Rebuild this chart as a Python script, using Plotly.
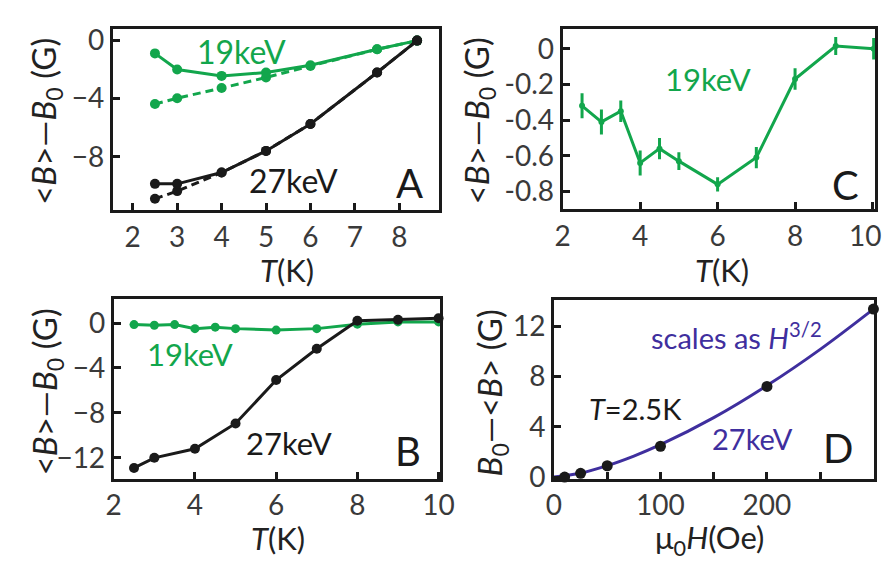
import plotly.graph_objects as go
from plotly.subplots import make_subplots

W, H = 895, 562
GREEN = "#12a64c"
BLACK = "#1a1a1a"
PURPLE = "#3f2f9e"
TICKC = "#3a3a3a"
FONT = "Lato"

# Panel A data
a_T = [2.5, 3, 4, 5, 6, 7.5, 8.4]
a_g19_solid = [-0.88, -1.99, -2.43, -2.2, -1.7, -0.6, 0.0]
a_g19_dash = [-4.37, -3.97, -3.27, -2.54, -1.75, -0.6, 0.0]
a_k27_solid = [-9.87, -9.87, -9.09, -7.6, -5.74, -2.2, 0.0]
a_k27_dash = [-10.9, -10.37, -9.09, -7.6, -5.74, -2.2, 0.0]

# Panel B data
b_T = [2.5, 3, 3.5, 4, 4.5, 5, 6, 7, 8, 9, 10]
b_g19 = [-0.14, -0.2, -0.14, -0.5, -0.37, -0.5, -0.63, -0.5, -0.1, 0.1, 0.1]
b_k_T = [2.5, 3, 4, 5, 6, 7, 8, 9, 10]
b_k27 = [-12.9, -12.0, -11.2, -8.94, -5.08, -2.29, 0.2, 0.29, 0.43]

# Panel C data
c_T = [2.5, 3, 3.5, 4, 4.5, 5, 6, 7, 8, 9.05, 10.03]
c_g19 = [-0.32, -0.41, -0.35, -0.64, -0.56, -0.63, -0.76, -0.61, -0.17, 0.015, 0.0]
c_err = [0.07, 0.07, 0.06, 0.07, 0.06, 0.05, 0.04, 0.06, 0.06, 0.05, 0.06]

# Panel D data
d_H = [10, 25, 50, 100, 200, 300]
d_B = [0.0, 0.3, 0.9, 2.45, 7.2, 13.35]
d_fitH = [0, 25, 50, 75, 100, 150, 200, 250, 300]
d_fitB = [0, 0.32, 0.91, 1.67, 2.57, 4.72, 7.27, 10.15, 13.35]

fig = make_subplots(rows=2, cols=2)

def line_tr(x, y, color, dash="solid", row=1, col=1, size=10, err=None):
    tr = go.Scatter(x=x, y=y, mode="lines+markers",
                    line=dict(color=color, width=3, dash=dash),
                    marker=dict(color=color, size=size),
                    cliponaxis=False, showlegend=False)
    if err is not None:
        tr.update(error_y=dict(type="data", array=err, visible=True,
                               color=color, thickness=3, width=0))
    fig.add_trace(tr, row=row, col=col)

# A
line_tr(a_T, a_g19_dash, GREEN, "8px,5px", 1, 1)
line_tr(a_T, a_g19_solid, GREEN, "solid", 1, 1)
line_tr(a_T, a_k27_dash, BLACK, "8px,5px", 1, 1)
line_tr(a_T, a_k27_solid, BLACK, "solid", 1, 1)
# C
line_tr(c_T, c_g19, GREEN, "solid", 1, 2, size=6, err=c_err)
# B
line_tr(b_T, b_g19, GREEN, "solid", 2, 1, size=9)
line_tr(b_k_T, b_k27, BLACK, "solid", 2, 1, size=10)
# D
fig.add_trace(go.Scatter(x=d_fitH, y=d_fitB, mode="lines",
                         line=dict(color=PURPLE, width=3, shape="spline"),
                         cliponaxis=False, showlegend=False), row=2, col=2)
fig.add_trace(go.Scatter(x=d_H, y=d_B, mode="markers",
                         marker=dict(color=BLACK, size=11),
                         cliponaxis=False, showlegend=False), row=2, col=2)

def dom(p0, p1, total):
    return [p0 / total, p1 / total]

def ydom(top, bottom):
    return [1 - bottom / H, 1 - top / H]

axcommon = dict(showline=True, linewidth=3, linecolor=BLACK, mirror=True,
                ticks="inside", ticklen=7, tickwidth=2.5, tickcolor=BLACK,
                showgrid=False, zeroline=False,
                tickfont=dict(family=FONT, size=28, color=TICKC))

fig.update_layout(
    xaxis=dict(domain=dom(100, 437, W), range=[1.55, 8.89],
               tickvals=[2, 3, 4, 5, 6, 7, 8], **axcommon),
    yaxis=dict(domain=ydom(15, 203), range=[-11.7, 0.77],
               tickvals=[0, -4, -8], **axcommon),
    xaxis2=dict(domain=dom(565, 888, W), range=[2, 10.07],
                tickvals=[2, 4, 6, 8, 10],
                ticktext=["2", "4", "6", "8", "10\u00a0\u00a0"], **axcommon),
    yaxis2=dict(domain=ydom(15, 201.7), range=[-0.899, 0.108],
                tickvals=[0, -0.2, -0.4, -0.6, -0.8],
                ticktext=["0", "-0.2", "-0.4", "-0.6", "-0.8"], **axcommon),
    xaxis3=dict(domain=dom(101, 438, W), range=[2, 10.03],
                tickvals=[2, 4, 6, 8, 10], **axcommon),
    yaxis3=dict(domain=ydom(295, 481.7), range=[-13.86, 2.14],
                tickvals=[0, -4, -8, -12], **axcommon),
    xaxis4=dict(domain=dom(556, 886.7, W), range=[0, 300.5],
                tickvals=[0, 100, 200],
                minor=dict(tickvals=[50, 150, 250], ticks="inside", ticklen=7,
                           tickwidth=2.5, tickcolor=BLACK, showgrid=False),
                **axcommon),
    yaxis4=dict(domain=ydom(295.7, 481.7), range=[-0.13, 14.1],
                tickvals=[0, 4, 8, 12], **axcommon),
)

def ann(x, y, text, size, color=BLACK, angle=0):
    fig.add_annotation(x=x / W, y=1 - y / H, xref="paper", yref="paper",
                       text=text, showarrow=False, textangle=angle,
                       xanchor="center", yanchor="middle",
                       font=dict(family=FONT, size=size, color=color))

ytitle1 = "&lt;<i>B</i>&gt;—<i>B</i><sub>0</sub> (G)"
ytitle4 = "<i>B</i><sub>0</sub>—&lt;<i>B</i>&gt; (G)"
xtitleT = "<i>T</i>(K)"
xtitleH = "μ<sub>0</sub><i>H</i>(Oe)"

# axis titles
ann(31, 110, ytitle1, 33, "#222", -90)
ann(31, 391, ytitle1, 33, "#222", -90)
ann(478, 110, ytitle1, 33, "#222", -90)
ann(491, 393, ytitle4, 33, "#222", -90)
ann(280, 265, xtitleT, 31, "#222")
ann(271, 543, xtitleT, 31, "#222")
ann(730, 265, xtitleT, 31, "#222")
ann(717, 545, xtitleH, 31, "#222")

# panel labels / text
ann(233, 38, "19keV", 32, GREEN)
ann(287, 172, "27keV", 32, BLACK)
ann(407, 175, "A", 40, BLACK)
ann(715, 67, "19keV", 31, GREEN)
ann(857, 177, "C", 40, BLACK)
ann(180, 352, "19keV", 31, GREEN)
ann(282, 445, "27keV", 31, BLACK)
ann(405, 453, "B", 40, BLACK)
ann(745, 333, "scales as <i>H</i><sup>3/2</sup>", 29, PURPLE)
ann(640, 409, "<i>T</i>=2.5K", 29, BLACK)
ann(761, 440, "27keV", 29, PURPLE)
ann(850, 450, "D", 40, BLACK)

fig.update_layout(width=W, height=H, margin=dict(l=0, r=0, t=0, b=0),
                  paper_bgcolor="white", plot_bgcolor="white",
                  font=dict(family=FONT))

fig.write_html("out.html")
